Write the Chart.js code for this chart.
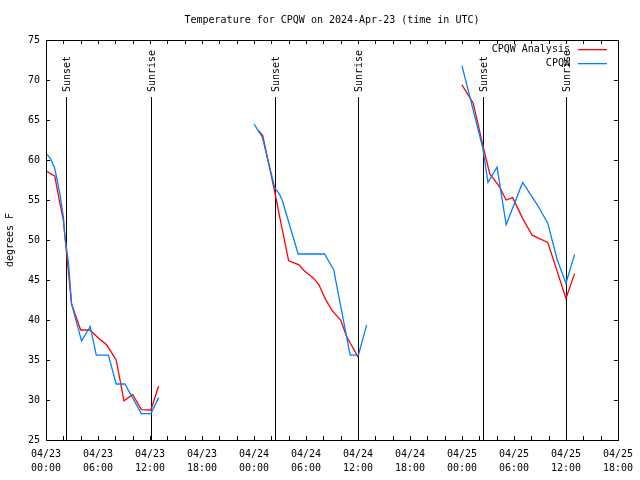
<!DOCTYPE html>
<html>
<head>
<meta charset="utf-8">
<script src="https://cdn.jsdelivr.net/npm/chart.js@4/dist/chart.umd.min.js"></script>
<style>
  html, body { margin: 0; padding: 0; background: #fff; }
  #c { display: block; }
</style>
</head>
<body>
<canvas id="c" width="640" height="480"></canvas>
<script>
// ---- Data (hours since 2024-04-23 00:00 UTC, temperature in degrees F) ----
const chartTitle = 'Temperature for CPQW on 2024-Apr-23 (time in UTC)';
const yTitle = 'degrees F';

const analysisLabel = 'CPQW Analysis';
const analysisHours = [0.1, 0.5, 1.0, 1.6, 2.0, 2.95, 4.0, 5.05, 6.2, 7.0, 8.1, 9.0, 10.0, 11.0, 12.1, 13.0,
                       18,
                       24.5, 25.0, 26.4, 27.0, 28.0, 29.2, 29.7, 30.9, 31.5, 32.2, 33.0, 34.0, 34.7, 36.05,
                       42,
                       48.0, 49.3, 50.4, 51.2, 52.3, 53.1, 53.85, 55.0, 56.1, 57.9, 60.0, 61.0];
const analysisTemps = [58.6, 58.3, 58.0, 54.6, 52.5, 42.0, 38.75, 38.75, 37.6, 36.9, 35.0, 29.9, 30.7, 28.8, 28.75, 31.75,
                       null,
                       63.7, 63.1, 56.0, 52.7, 47.4, 46.9, 46.25, 45.2, 44.4, 42.7, 41.2, 40.0, 37.9, 35.3,
                       null,
                       69.4, 67.1, 61.9, 58.3, 56.7, 55.0, 55.3, 52.7, 50.6, 49.7, 42.7, 45.8];

const obsLabel = 'CPQW';
const obsHours = [0.1, 0.5, 1.0, 1.6, 2.0, 2.2, 2.6, 2.95, 4.1, 5.1, 5.8, 7.2, 8.1, 9.1, 11.0, 12.1, 13.0,
                  18,
                  24.0, 24.95, 26.4, 26.9, 27.25, 29.1, 32.15, 33.2, 35.1, 36.05, 37.0,
                  42,
                  48.0, 50.4, 51.0, 52.05, 53.1, 55.0, 56.7, 57.9, 59.0, 60.0, 61.0];
const obsTemps = [60.7, 60.2, 59.0, 55.8, 52.9, 50.3, 47.1, 42.0, 37.4, 39.2, 35.6, 35.6, 32.0, 32.0, 28.3, 28.3, 30.3,
                  null,
                  64.5, 62.9, 56.5, 55.8, 55.0, 48.25, 48.25, 46.25, 35.6, 35.6, 39.4,
                  null,
                  71.8, 61.5, 57.2, 59.1, 51.9, 57.2, 54.4, 52.1, 47.5, 44.6, 48.2];

const sunEventHours = [2.36, 12.13, 26.4, 35.97, 50.44, 59.97];
const sunEventNames = ['Sunset', 'Sunrise', 'Sunset', 'Sunrise', 'Sunset', 'Sunrise'];
const sunLineTopTemp = 67.9;

const xMin = 0, xMax = 66, xMinorStep = 2, xLabelStep = 6;
const xTickLabels = [
  ['04/23', '00:00'], ['04/23', '06:00'], ['04/23', '12:00'], ['04/23', '18:00'],
  ['04/24', '00:00'], ['04/24', '06:00'], ['04/24', '12:00'], ['04/24', '18:00'],
  ['04/25', '00:00'], ['04/25', '06:00'], ['04/25', '12:00'], ['04/25', '18:00']
];
const yMin = 25, yMax = 75, yStep = 5;

const redColor = '#ff0000';
const blueColor = '#0080ff';
const FONT = 'DejaVu Sans Mono';

function toPoints(xs, ys) { return xs.map((x, i) => ({ x: x, y: ys[i] })); }

const decorPlugin = {
  id: 'decor',
  beforeDatasetsDraw(chart) {
    const ctx = chart.ctx;
    const xs = chart.scales.x, ys = chart.scales.y;
    const a = chart.chartArea;
    ctx.save();
    ctx.strokeStyle = '#000';
    ctx.lineWidth = 1;
    const yTop = ys.getPixelForValue(sunLineTopTemp);
    sunEventHours.forEach((h, i) => {
      const px = Math.round(xs.getPixelForValue(h)) + 0.5;
      ctx.beginPath();
      ctx.moveTo(px, Math.round(yTop));
      ctx.lineTo(px, a.bottom);
      ctx.stroke();
      ctx.save();
      ctx.translate(px + 1, Math.round(yTop) - 5);
      ctx.rotate(-Math.PI / 2);
      ctx.font = '10px "' + FONT + '"';
      ctx.fillStyle = '#000';
      ctx.textAlign = 'left';
      ctx.textBaseline = 'middle';
      ctx.fillText(sunEventNames[i], 0, 0);
      ctx.restore();
    });
    ctx.restore();
  },
  afterDraw(chart) {
    const ctx = chart.ctx;
    const xs = chart.scales.x, ys = chart.scales.y;
    const a = chart.chartArea;
    ctx.save();
    ctx.strokeStyle = '#000';
    ctx.lineWidth = 1;
    ctx.strokeRect(Math.round(a.left) + 0.5, Math.round(a.top) + 0.5,
                   Math.round(a.right - a.left), Math.round(a.bottom - a.top));
    const tl = 4;
    ctx.beginPath();
    for (let h = xMin; h <= xMax; h += xMinorStep) {
      const px = Math.round(xs.getPixelForValue(h)) + 0.5;
      ctx.moveTo(px, a.bottom); ctx.lineTo(px, a.bottom - tl);
      ctx.moveTo(px, a.top); ctx.lineTo(px, a.top + tl);
    }
    for (let v = yMin; v <= yMax; v += yStep) {
      const py = Math.round(ys.getPixelForValue(v)) + 0.5;
      ctx.moveTo(a.left, py); ctx.lineTo(a.left + tl, py);
      ctx.moveTo(a.right, py); ctx.lineTo(a.right - tl, py);
    }
    ctx.stroke();

    ctx.fillStyle = '#000';
    ctx.font = '10px "' + FONT + '"';
    ctx.textAlign = 'center';
    ctx.textBaseline = 'middle';
    ctx.fillText(chartTitle, (a.left + a.right) / 2, a.top - 20);

    ctx.save();
    ctx.translate(10, (a.top + a.bottom) / 2);
    ctx.rotate(-Math.PI / 2);
    ctx.textAlign = 'center';
    ctx.textBaseline = 'middle';
    ctx.fillText(yTitle, 0, 0);
    ctx.restore();

    const items = [[analysisLabel, redColor], [obsLabel, blueColor]];
    items.forEach((it, i) => {
      const ty = a.top + 9 + i * 14;
      ctx.textAlign = 'right';
      ctx.textBaseline = 'middle';
      ctx.fillStyle = '#000';
      ctx.fillText(it[0], a.right - 48, ty);
      ctx.fillStyle = it[1];
      ctx.fillRect(a.right - 40, Math.round(ty), 29, 1.3);
    });
    ctx.restore();
  }
};

new Chart(document.getElementById('c'), {
  type: 'line',
  data: {
    datasets: [
      { label: analysisLabel, data: toPoints(analysisHours, analysisTemps), borderColor: redColor,
        backgroundColor: redColor, borderWidth: 1.3, pointRadius: 0, tension: 0, fill: false, spanGaps: false, order: 1 },
      { label: obsLabel, data: toPoints(obsHours, obsTemps), borderColor: blueColor,
        backgroundColor: blueColor, borderWidth: 1.3, pointRadius: 0, tension: 0, fill: false, spanGaps: false, order: 0 }
    ]
  },
  options: {
    responsive: false,
    animation: false,
    devicePixelRatio: 1,
    layout: { padding: { top: 40, right: 19, left: 0, bottom: 0 } },
    plugins: { legend: { display: false }, title: { display: false }, tooltip: { enabled: false } },
    scales: {
      x: {
        type: 'linear', min: xMin, max: xMax,
        afterBuildTicks: (s) => {
          const t = [];
          for (let h = xMin; h <= xMax; h += xLabelStep) t.push({ value: h });
          s.ticks = t;
        },
        afterFit: (s) => { s.height = 40; },
        grid: { display: false, drawTicks: false },
        border: { display: false },
        ticks: {
          autoSkip: false, maxRotation: 0, minRotation: 0, padding: 7,
          color: '#000', font: { family: FONT, size: 10, lineHeight: 1.45 },
          callback: (v) => xTickLabels[Math.round((v - xMin) / xLabelStep)]
        }
      },
      y: {
        min: yMin, max: yMax,
        afterFit: (s) => { s.width = 46; },
        grid: { display: false, drawTicks: false },
        border: { display: false },
        ticks: { stepSize: yStep, padding: 6, color: '#000', font: { family: FONT, size: 10 } }
      }
    }
  },
  plugins: [decorPlugin]
});
</script>
</body>
</html>
